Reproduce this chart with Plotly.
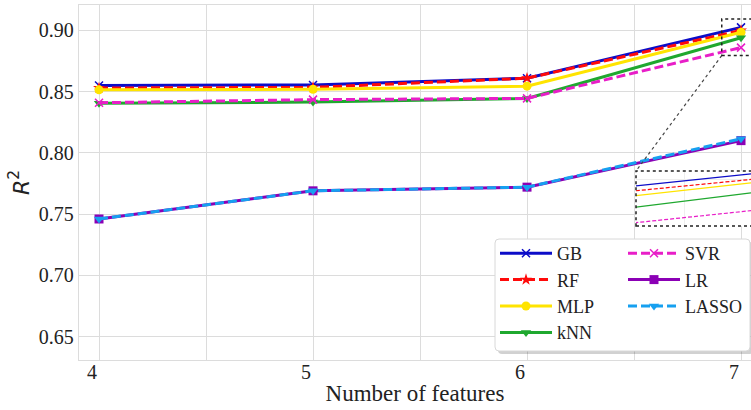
import plotly.graph_objects as go

# Number of input features evaluated
features = [4, 5, 6, 7]

# R^2 score per model
gb_r2 = [0.855, 0.8555, 0.861, 0.9025]
rf_r2 = [0.853, 0.8535, 0.861, 0.900]
mlp_r2 = [0.8515, 0.852, 0.8545, 0.8985]
knn_r2 = [0.8405, 0.8415, 0.8445, 0.894]
svr_r2 = [0.841, 0.8435, 0.8445, 0.886]
lr_r2 = [0.746, 0.769, 0.772, 0.810]
lasso_r2 = [0.746, 0.769, 0.772, 0.8115]

x_ticks = [4, 5, 6, 7]
y_ticks = [0.65, 0.70, 0.75, 0.80, 0.85, 0.90]

# figure geometry (pixels)
W, H = 751, 410
ML, MR, MT, MB = 79, 0, 5, 50
PW, PH = W - ML - MR, H - MT - MB

X_RANGE = [3.9065, 7.0467]
Y_RANGE = [0.6308, 0.9208]

# region outlined on the main axes
BOX_X = [6.91, 7.12]
BOX_Y = [0.8795, 0.9094]
# limits of the zoomed inset axes
INSET_X = [6.87, 7.0]
INSET_Y = [0.8791, 0.9038]


def px_x(p):
    return (p - ML) / PW


def px_y(p):
    return (H - MB - p) / PH


SERIF = "Liberation Serif"
TEXT = "#222222"
GRID = "#dcdcdc"

models = [
    # name, values, colour, dash, symbol, legend, rank
    ("GB", gb_r2, "#0c0cc8", "solid", "x-thin", "legend", 1),
    ("RF", rf_r2, "#ff0a0a", "9px,4px", "star", "legend", 2),
    ("MLP", mlp_r2, "#ffe400", "solid", "circle", "legend", 3),
    ("kNN", knn_r2, "#1fa82f", "solid", "triangle-down", "legend", 4),
    ("SVR", svr_r2, "#e81ec8", "9px,4px", "x-thin", "legend2", 5),
    ("LR", lr_r2, "#8b00b5", "solid", "square", "legend2", 6),
    ("LASSO", lasso_r2, "#16a0f0", "9px,4px", "triangle-down", "legend2", 7),
]

fig = go.Figure()

for name, vals, color, dash, symbol, leg, rank in models:
    thin = symbol == "x-thin"
    fig.add_trace(go.Scatter(
        x=features, y=vals, name=name, mode="lines+markers",
        line=dict(color=color, width=3, dash=dash),
        marker=dict(symbol=symbol, size=9 if not thin else 8, color=color,
                    line=dict(color=color, width=1.5 if thin else 0)),
        legend=leg, legendrank=rank, legendgroup=name,
        xaxis="x", yaxis="y",
    ))

# thin copies for the zoomed inset
for name, vals, color, dash, symbol, leg, rank in models:
    fig.add_trace(go.Scatter(
        x=features, y=vals, name=name, mode="lines",
        line=dict(color=color, width=1.2,
                  dash="4px,2px" if dash != "solid" else "solid"),
        showlegend=False, hoverinfo="skip",
        xaxis="x2", yaxis="y2",
    ))

ins_x0, ins_x1 = px_x(636), 1.0
ins_y0, ins_y1 = px_y(226), px_y(171)

# inset top-left corner expressed in main data coordinates
corner_x = X_RANGE[0] + ins_x0 * (X_RANGE[1] - X_RANGE[0])
corner_y = Y_RANGE[0] + ins_y1 * (Y_RANGE[1] - Y_RANGE[0])

# legend frame with rounded corners and a soft shadow
lx0, lx1 = px_x(495), px_x(750)
ly0, ly1 = px_y(351), px_y(239)
rx, ry = 4 / PW, 4 / PH


def rounded(x0, y0, x1, y1):
    return (f"M{x0 + rx},{y0} L{x1 - rx},{y0} Q{x1},{y0} {x1},{y0 + ry} "
            f"L{x1},{y1 - ry} Q{x1},{y1} {x1 - rx},{y1} "
            f"L{x0 + rx},{y1} Q{x0},{y1} {x0},{y1 - ry} "
            f"L{x0},{y0 + ry} Q{x0},{y0} {x0 + rx},{y0} Z")


sx, sy = 3 / PW, 3 / PH
shapes = [
    dict(type="rect", xref="x", yref="y", x0=BOX_X[0], x1=BOX_X[1],
         y0=BOX_Y[0], y1=BOX_Y[1],
         line=dict(color="#222222", width=1.5, dash="dot"), layer="above"),
    dict(type="line", xref="x", yref="y", x0=BOX_X[0], y0=BOX_Y[0],
         x1=corner_x, y1=corner_y,
         line=dict(color="#444444", width=1.2, dash="dot"), layer="above"),
    dict(type="rect", xref="paper", yref="paper", x0=ins_x0, x1=1.2,
         y0=ins_y0, y1=ins_y1,
         line=dict(color="#222222", width=1.5, dash="dot"), layer="above"),
    dict(type="path", xref="paper", yref="paper",
         path=rounded(lx0 + sx, ly0 - sy, lx1 + sx, ly1 - sy),
         fillcolor="rgba(0,0,0,0.18)", line=dict(width=0), layer="above"),
    dict(type="path", xref="paper", yref="paper",
         path=rounded(lx0, ly0, lx1, ly1),
         fillcolor="white", line=dict(color="#d8d8d8", width=1), layer="above"),
]

legend_common = dict(
    bgcolor="rgba(0,0,0,0)", borderwidth=0,
    font=dict(family=SERIF, size=18, color=TEXT),
    xanchor="left", yanchor="top", tracegroupgap=0, itemwidth=52,
)

fig.update_layout(
    width=W, height=H,
    font=dict(family=SERIF, size=20, color=TEXT),
    margin=dict(l=ML, r=MR, t=MT, b=MB, autoexpand=False),
    paper_bgcolor="white", plot_bgcolor="white",
    showlegend=True,
    legend=dict(x=px_x(495), y=px_y(235), **legend_common),
    legend2=dict(x=px_x(623), y=px_y(235), **legend_common),
    shapes=shapes,
    xaxis=dict(
        domain=[0, 1], range=X_RANGE, tickvals=x_ticks,
        ticktext=[str(v) for v in x_ticks],
        showgrid=True, gridcolor=GRID, gridwidth=1.3,
        minor=dict(dtick=0.5, tick0=4, showgrid=True, gridcolor=GRID, gridwidth=1.3),
        showline=True, linecolor=GRID, linewidth=1.3, mirror=True,
        zeroline=False, ticks="", ticklabelshift=-7, ticklabelstandoff=-6,
        tickfont=dict(family=SERIF, size=20, color=TEXT),
        title=dict(text="Number of features", standoff=2,
                   font=dict(family=SERIF, size=23, color=TEXT)),
    ),
    yaxis=dict(
        domain=[0, 1], range=Y_RANGE, tickvals=y_ticks,
        ticktext=[f"{v:.2f}" for v in y_ticks],
        showgrid=True, gridcolor=GRID, gridwidth=1.3,
        showline=True, linecolor=GRID, linewidth=1.3, mirror=False,
        zeroline=False, ticks="",
        tickfont=dict(family=SERIF, size=20, color=TEXT),
        title=dict(text="<i>R</i><sup>2</sup>", standoff=3,
                   font=dict(family="DejaVu Sans", size=22, color=TEXT)),
    ),
    xaxis2=dict(
        domain=[ins_x0, ins_x1], range=INSET_X, anchor="y2",
        tickvals=[6.925], showticklabels=False, ticks="",
        showgrid=True, gridcolor="#eeeeee", gridwidth=1, zeroline=False,
        showline=False,
    ),
    yaxis2=dict(
        domain=[ins_y0, ins_y1], range=INSET_Y, anchor="x2",
        tickvals=[0.90], showticklabels=False, ticks="",
        showgrid=True, gridcolor="#eeeeee", gridwidth=1, zeroline=False,
        showline=False,
    ),
)

fig.write_html("out.html")
